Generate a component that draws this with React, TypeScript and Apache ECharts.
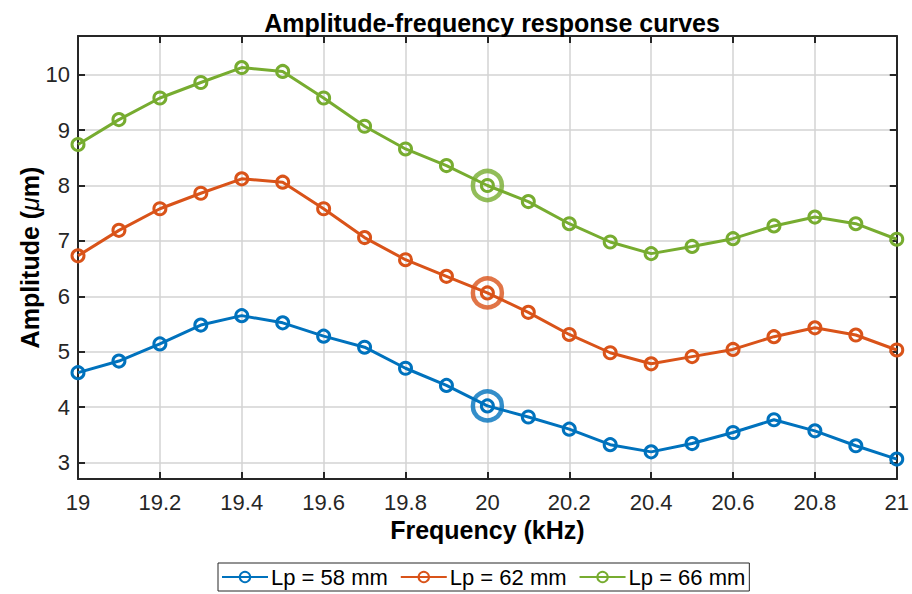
import React, { useEffect, useRef } from "react";
import * as echarts from "echarts";

const freqs = [19.0, 19.1, 19.2, 19.3, 19.4, 19.5, 19.6, 19.7, 19.8, 19.9, 20.0, 20.1, 20.2, 20.3, 20.4, 20.5, 20.6, 20.7, 20.8, 20.9, 21.0];
const lp58 = [4.62, 4.83, 5.14, 5.48, 5.65, 5.52, 5.28, 5.08, 4.70, 4.39, 4.02, 3.82, 3.60, 3.32, 3.19, 3.34, 3.54, 3.77, 3.57, 3.30, 3.06];
const lp62 = [6.73, 7.19, 7.58, 7.86, 8.12, 8.06, 7.58, 7.06, 6.66, 6.36, 6.06, 5.71, 5.31, 4.98, 4.78, 4.91, 5.04, 5.27, 5.43, 5.30, 5.03];
const lp66 = [8.74, 9.19, 9.58, 9.86, 10.13, 10.06, 9.58, 9.07, 8.66, 8.36, 8.00, 7.71, 7.31, 6.98, 6.77, 6.90, 7.04, 7.27, 7.43, 7.31, 7.03];
const seriesNames = ["Lp = 58 mm", "Lp = 62 mm", "Lp = 66 mm"];
const colors = ["#0072BD", "#D95319", "#77AC30"];
const yTicks = [3, 4, 5, 6, 7, 8, 9, 10];
const highlightFreq = 20.0;

const FONT = "Liberation Sans, Arial, sans-serif";

export default function App() {
  const ref = useRef<HTMLDivElement>(null);
  useEffect(() => {
    if (!ref.current) return;
    const chart = echarts.init(ref.current, null, { renderer: "svg" });
    const all = [lp58, lp62, lp66];
    const hi = freqs.indexOf(highlightFreq);
    const lineSeries = all.map((vals, i) => ({
      name: seriesNames[i],
      type: "line",
      data: freqs.map((f, k) => [f, vals[k]]),
      color: colors[i],
      symbol: "circle",
      symbolSize: 12,
      lineStyle: { width: 3, color: colors[i] },
      itemStyle: { color: "rgba(255,255,255,0)", borderColor: colors[i], borderWidth: 3 },
      z: 3,
    }));
    const hiSeries = all.map((vals, i) => ({
      name: "hi" + i,
      type: "scatter",
      data: [[freqs[hi], vals[hi]]],
      symbol: "circle",
      symbolSize: 29,
      itemStyle: { color: "rgba(255,255,255,0)", borderColor: colors[i], borderWidth: 4.5 },
      z: 4,
    }));
    const axisLine = { show: true, onZero: false, lineStyle: { color: "#262626", width: 2 } };
    const axisTick = { show: true, inside: true, length: 7, lineStyle: { color: "#262626", width: 2 } };
    const splitLine = { show: true, lineStyle: { color: "#d3d3d3", width: 1.5 } };
    chart.setOption({
      animation: false,
      backgroundColor: "#ffffff",
      title: {
        text: "Amplitude-frequency response curves",
        left: 487,
        textAlign: "center",
        top: 5,
        textStyle: { fontFamily: FONT, fontWeight: "bold", fontSize: 25, color: "#000" },
      },
      grid: { left: 78, top: 36, right: 15, bottom: 115, containLabel: false },
      legend: {
        data: seriesNames,
        left: 218,
        bottom: 3,
        itemWidth: 46,
        itemHeight: 13,
        itemGap: 12,
        padding: [3, 4, 3, 3],
        borderColor: "#262626",
        borderWidth: 1,
        backgroundColor: "#fff",
        textStyle: { fontFamily: FONT, fontSize: 22, color: "#000", padding: [0, 0, 0, -2] },
      },
      xAxis: [
        {
          type: "value",
          min: 19,
          max: 21,
          interval: 0.2,
          name: "Frequency (kHz)",
          nameLocation: "middle",
          nameGap: 38,
          nameTextStyle: { fontFamily: FONT, fontWeight: "bold", fontSize: 25, color: "#000" },
          axisLine,
          axisTick,
          splitLine,
          axisLabel: { fontFamily: FONT, fontSize: 22, color: "#262626", margin: 12 },
        },
        {
          type: "value",
          position: "top",
          min: 19,
          max: 21,
          interval: 0.2,
          axisLine,
          axisTick,
          splitLine: { show: false },
          axisLabel: { show: false },
        },
      ],
      yAxis: [
        {
          type: "value",
          min: 2.7,
          max: 10.7,
          name: "{b|Amplitude (}{mu|μ}{b|m)}",
          nameLocation: "middle",
          nameRotate: 90,
          nameGap: 36,
          nameMoveOverlap: false,
          nameTextStyle: {
            rich: {
              b: { fontFamily: FONT, fontWeight: "bold", fontSize: 25, color: "#000" },
              mu: { fontFamily: FONT, fontStyle: "italic", fontSize: 25, color: "#000" },
            },
          },
          axisLine,
          axisTick: { ...axisTick, customValues: yTicks },
          splitLine,
          axisLabel: { fontFamily: FONT, fontSize: 22, color: "#262626", margin: 8, customValues: yTicks },
        },
        {
          type: "value",
          position: "right",
          min: 2.7,
          max: 10.7,
          axisLine,
          axisTick: { ...axisTick, customValues: yTicks },
          splitLine: { show: false },
          axisLabel: { show: false, customValues: yTicks },
        },
      ],
      series: [...lineSeries, ...hiSeries],
    });
    return () => chart.dispose();
  }, []);
  return (
    <div
      ref={ref}
      style={{ position: "fixed", left: 0, top: 0, width: 912, height: 594, background: "#fff" }}
    />
  );
}
